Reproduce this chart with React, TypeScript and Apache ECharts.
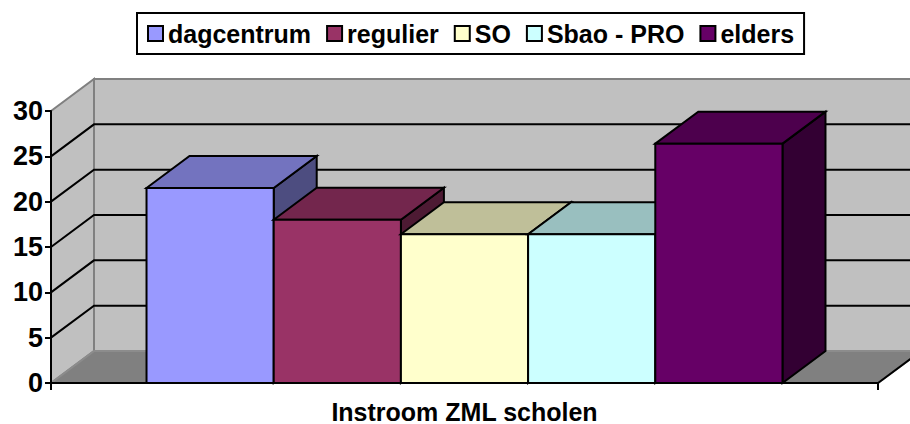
import React, { useEffect, useRef } from 'react';
import * as echarts from 'echarts';

const categories = ['Instroom ZML scholen'];
const seriesNames = ['dagcentrum', 'regulier', 'SO', 'Sbao - PRO', 'elders'];
const seriesValues = [21.5, 18, 16.4, 16.4, 26.4];
const seriesColors = ['#9999FF', '#993366', '#FFFFCC', '#CCFFFF', '#660066'];
const yTicks = [0, 5, 10, 15, 20, 25, 30];

const DX = 43;
const DY = 32;
const BAR_RATIO = 0.1538;
const FONT = '"Liberation Sans", Arial, sans-serif';

function shade(hex: string, f: number): string {
  const n = parseInt(hex.slice(1), 16);
  const r = Math.round(((n >> 16) & 255) * f);
  const g = Math.round(((n >> 8) & 255) * f);
  const b = Math.round((n & 255) * f);
  return `rgb(${r},${g},${b})`;
}

export default function App() {
  const ref = useRef<HTMLDivElement>(null);
  useEffect(() => {
    if (!ref.current) return;
    const chart = echarts.init(ref.current, null, { renderer: 'svg' });
    const yMin = yTicks[0];
    const yMax = yTicks[yTicks.length - 1];

    const wallSeries: any = {
      type: 'custom',
      name: '__walls',
      silent: true,
      z: 0,
      clip: false,
      data: [[0, 0]],
      encode: { x: 0, y: 1 },
      renderItem: (params: any, api: any) => {
        const cs = params.coordSys;
        const L = cs.x;
        const R = cs.x + cs.width;
        const y0 = api.coord([0, yMin])[1];
        const yT = api.coord([0, yMax])[1];
        const children: any[] = [];
        children.push({
          type: 'polygon',
          shape: { points: [[L + DX, yT - DY], [R + DX + 20, yT - DY], [R + DX + 20, y0 - DY], [L + DX, y0 - DY]] },
          style: { fill: '#C0C0C0', stroke: '#808080', lineWidth: 2 },
        });
        children.push({
          type: 'polygon',
          shape: { points: [[L, yT], [L + DX, yT - DY], [L + DX, y0 - DY], [L, y0]] },
          style: { fill: '#C0C0C0', stroke: '#808080', lineWidth: 2 },
        });
        children.push({
          type: 'polygon',
          shape: { points: [[L, y0], [L + DX, y0 - DY], [R + DX, y0 - DY], [R, y0]] },
          style: { fill: '#808080', stroke: '#8c8c8c', lineWidth: 2 },
        });
        children.push({
          type: 'line',
          shape: { x1: R, y1: y0, x2: R + DX, y2: y0 - DY },
          style: { stroke: '#000', lineWidth: 2 },
        });
        yTicks.slice(1, -1).forEach((v) => {
          const y = api.coord([0, v])[1];
          children.push({
            type: 'polyline',
            shape: { points: [[L, y], [L + DX, y - DY], [R + DX + 20, y - DY]] },
            style: { stroke: '#000', lineWidth: 2, fill: 'none' },
          });
        });
        return { type: 'group', children };
      },
    };

    const barSeries: any[] = seriesNames.map((name, i) => ({
      type: 'custom',
      name,
      z: 2,
      clip: false,
      itemStyle: { color: seriesColors[i] },
      data: [[0, seriesValues[i], i]],
      encode: { x: 0, y: 1 },
      renderItem: (params: any, api: any) => {
        const idx = api.value(2);
        const top = api.coord([api.value(0), api.value(1)]);
        const base = api.coord([api.value(0), 0]);
        const catW = api.size([1, 0])[0];
        const bw = catW * BAR_RATIO;
        const x0 = top[0] + (idx - seriesNames.length / 2) * bw;
        const x1 = x0 + bw;
        const yt = top[1];
        const yb = base[1];
        const color = seriesColors[idx];
        const st = { stroke: '#000', lineWidth: 2, lineJoin: 'miter' };
        return {
          type: 'group',
          children: [
            {
              type: 'polygon',
              shape: { points: [[x1, yt], [x1 + DX, yt - DY], [x1 + DX, yb - DY], [x1, yb]] },
              style: { fill: shade(color, 0.5), ...st },
            },
            {
              type: 'polygon',
              shape: { points: [[x0, yt], [x0 + DX, yt - DY], [x1 + DX, yt - DY], [x1, yt]] },
              style: { fill: shade(color, 0.75), ...st },
            },
            {
              type: 'rect',
              shape: { x: x0, y: yt, width: bw, height: yb - yt },
              style: { fill: color, ...st },
            },
          ],
        };
      },
    }));

    chart.setOption({
      animation: false,
      backgroundColor: '#fff',
      textStyle: { fontFamily: FONT },
      grid: { left: 51, right: 32, top: 111, bottom: 41, containLabel: false },
      legend: {
        data: seriesNames.map((n) => ({ name: n, itemStyle: { borderColor: '#000', borderWidth: 2 } })),
        icon: 'rect',
        itemWidth: 15,
        itemHeight: 15,
        itemGap: 15,
        left: 137,
        top: 13,
        borderColor: '#000',
        borderWidth: 2,
        padding: [8, 10],
        textStyle: { fontSize: 25, fontWeight: 'bold', color: '#000', fontFamily: FONT },
      },
      xAxis: {
        type: 'category',
        data: categories,
        boundaryGap: true,
        z: 5,
        axisLine: { lineStyle: { color: '#000', width: 2 } },
        axisTick: { show: true, length: 7, lineStyle: { color: '#000', width: 2 } },
        axisLabel: { fontSize: 25, fontWeight: 'bold', color: '#000', margin: 16, fontFamily: FONT },
        splitLine: { show: false },
      },
      yAxis: {
        type: 'value',
        min: yMin,
        max: yMax,
        interval: 5,
        z: 5,
        axisLine: { show: true, lineStyle: { color: '#000', width: 2 } },
        axisTick: { show: true, length: 6, lineStyle: { color: '#000', width: 2 } },
        axisLabel: { fontSize: 27, fontWeight: 'bold', color: '#000', margin: 8, fontFamily: FONT },
        splitLine: { show: false },
      },
      series: [wallSeries, ...barSeries],
    });
    return () => chart.dispose();
  }, []);
  return <div ref={ref} style={{ position: 'absolute', left: 0, top: 0, width: 910, height: 424 }} />;
}
